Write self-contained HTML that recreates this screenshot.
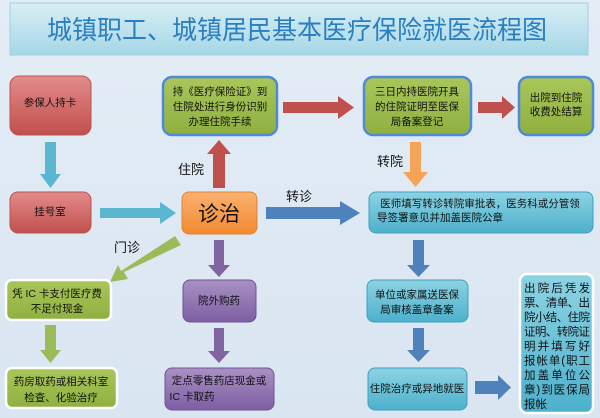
<!DOCTYPE html>
<html><head><meta charset="utf-8"><style>
body{margin:0;background:#dde8f2;}
svg{display:block;font-family:"Liberation Sans","Noto Sans CJK SC",sans-serif;}
</style></head><body>
<svg width="600" height="418" viewBox="0 0 600 418" xmlns="http://www.w3.org/2000/svg">
<defs>
<linearGradient id="bg" x1="0" y1="0" x2="0" y2="1"><stop offset="0" stop-color="#e4edf6"/><stop offset="1" stop-color="#d9e5f1"/></linearGradient>
<linearGradient id="tt" x1="0" y1="0" x2="0" y2="1"><stop offset="0" stop-color="#d8eef4"/><stop offset="0.5" stop-color="#bfe3ee"/><stop offset="1" stop-color="#a6d6e6"/></linearGradient>
<linearGradient id="red" x1="0" y1="0" x2="0" y2="1"><stop offset="0" stop-color="#e48b8b"/><stop offset="1" stop-color="#c0504d"/></linearGradient>
<linearGradient id="grn" x1="0" y1="0" x2="0" y2="1"><stop offset="0" stop-color="#a9c65a"/><stop offset="1" stop-color="#8fb040"/></linearGradient>
<linearGradient id="org" x1="0" y1="0" x2="0" y2="1"><stop offset="0" stop-color="#fbb070"/><stop offset="1" stop-color="#f28a30"/></linearGradient>
<linearGradient id="cyn" x1="0" y1="0" x2="0" y2="1"><stop offset="0" stop-color="#8dd3e3"/><stop offset="1" stop-color="#4cb0cc"/></linearGradient>
<linearGradient id="pur" x1="0" y1="0" x2="0" y2="1"><stop offset="0" stop-color="#a990c4"/><stop offset="1" stop-color="#7d5fa3"/></linearGradient>
</defs>
<rect width="600" height="418" fill="url(#bg)"/>
<rect x="10" y="3" width="578" height="52" fill="url(#tt)" stroke="#9fcfe0"/>
<text x="297" y="39" text-anchor="middle" font-size="26" fill="#2a7fc0" textLength="500" lengthAdjust="spacingAndGlyphs">城镇职工、城镇居民基本医疗保险就医流程图</text>

<!-- arrows -->
<g fill="#5bb6cf"><polygon points="45,142 56,142 56,174 61,174 50.5,188 40,174 45,174"/>
<polygon points="100,208 160,208 160,202 176,213 160,224 160,218 100,218"/></g>
<g fill="#c0504d"><polygon points="283,102 338,102 338,96 354,107.5 338,119 338,113 283,113"/>
<polygon points="478,102 502,102 502,96 515,107.5 502,119 502,113 478,113"/>
<polygon points="213,188 213,154 207,154 219,140 231,154 225,154 225,188"/></g>
<polygon fill="#f6a35a" points="410,142 421,142 421,172 428,172 415.5,187 403,172 410,172"/>
<polygon fill="#4f81bd" points="266,207 340,207 340,201 360,213 340,225 340,219 266,219"/>
<polygon fill="#9bbb59" points="175,236 181,245 124,272 128,279 110,282 118,265 121,271"/>
<g fill="#8064a2"><polygon points="214,240 224,240 224,265 230,265 219,277 208,265 214,265"/>
<polygon points="214,328 224,328 224,351 230,351 219,363 208,351 214,351"/></g>
<polygon fill="#9bbb59" points="45,325 56,325 56,350 61,350 50.5,363 40,350 45,350"/>
<g fill="#4f81bd"><polygon points="413,240 424,240 424,265 430,265 418.5,277 407,265 413,265"/>
<polygon points="413,328 424,328 424,350 430,350 418.5,362 407,350 413,350"/>
<polygon points="475,381 498,381 498,375 511,387.5 498,400 498,394 475,394"/></g>

<!-- boxes -->
<rect x="10" y="76" width="81" height="59" rx="9" fill="url(#red)" stroke="#b65552"/>
<rect x="10" y="192" width="81" height="41" rx="8" fill="url(#red)" stroke="#b65552"/>
<rect x="163" y="77" width="114" height="58" rx="9" fill="url(#grn)" stroke="#4f8ad8" stroke-width="2.5"/>
<rect x="364" y="77" width="107" height="58" rx="9" fill="url(#grn)" stroke="#4f8ad8" stroke-width="2.5"/>
<rect x="519" y="77" width="74" height="58" rx="9" fill="url(#grn)" stroke="#4f8ad8" stroke-width="2.5"/>
<rect x="182" y="192" width="75" height="42" rx="7" fill="url(#org)" stroke="#e0842e"/>
<rect x="369" y="192" width="224" height="41" rx="7" fill="url(#cyn)" stroke="#3fa0bd"/>
<rect x="6" y="280" width="105" height="40" rx="6" fill="url(#grn)" stroke="#fff" stroke-width="2.5"/>
<rect x="183" y="280" width="73" height="42" rx="7" fill="url(#pur)" stroke="#6f5590"/>
<rect x="367" y="280" width="101" height="42" rx="7" fill="url(#cyn)" stroke="#3fa0bd"/>
<rect x="520" y="274" width="73" height="139" rx="7" fill="url(#cyn)" stroke="#fff" stroke-width="2.5"/>
<rect x="6" y="368" width="111" height="40" rx="6" fill="url(#grn)" stroke="#fff" stroke-width="2.5"/>
<rect x="165" y="368" width="109" height="42" rx="7" fill="url(#pur)" stroke="#6f5590"/>
<rect x="368" y="368" width="99" height="42" rx="7" fill="url(#cyn)" stroke="#3fa0bd"/>

<!-- texts -->
<g font-size="10.5" fill="#111" text-anchor="middle">
<text x="50" y="106">参保人持卡</text>
<text x="50" y="215">挂号室</text>
<text x="220" y="95">持《医疗保险证》到</text>
<text x="220" y="110">住院处进行身份识别</text>
<text x="220" y="125">办理住院手续</text>
<text x="417" y="95">三日内持医院开具</text>
<text x="417" y="110">的住院证明至医保</text>
<text x="417" y="125">局备案登记</text>
<text x="556" y="101">出院到住院</text>
<text x="556" y="115">收费处结算</text>
<text x="480" y="207">医师填写转诊转院审批表，医务科或分管领</text>
<text x="440" y="221">导签署意见并加盖医院公章</text>
<text x="57" y="297">凭 IC 卡支付医疗费</text>
<text x="57" y="312">不足付现金</text>
<text x="219" y="304">院外购药</text>
<text x="417" y="298">单位或家属送医保</text>
<text x="417" y="313">局审核盖章备案</text>
<text x="61" y="385">药房取药或相关科室</text>
<text x="61" y="401">检查、化验治疗</text>
<text x="219" y="384" >定点零售药店现金或</text>
<text x="192" y="400">IC 卡取药</text>
<text x="417" y="392">住院治疗或异地就医</text>
</g>
<g font-size="11.5" fill="#111">
<text x="524" y="292" textLength="66">出院后凭发</text>
<text x="524" y="306.5" textLength="66">票、清单、出</text>
<text x="524" y="321" textLength="66">院小结、住院</text>
<text x="524" y="335.5" textLength="66">证明、转院证</text>
<text x="524" y="350" textLength="66">明并填写好</text>
<text x="524" y="364.5" textLength="66">报帐单(职工</text>
<text x="524" y="379" textLength="66">加盖单位公</text>
<text x="524" y="393.5" textLength="66">章)到医保局</text>
<text x="524" y="408">报帐</text>
</g>
<text x="219" y="221" font-size="21" text-anchor="middle" fill="#111">诊治</text>
<g font-size="13" fill="#111">
<text x="178" y="174">住院</text>
<text x="377" y="166">转院</text>
<text x="286" y="201">转诊</text>
<text x="114" y="252">门诊</text>
</g>
</svg>
</body></html>
